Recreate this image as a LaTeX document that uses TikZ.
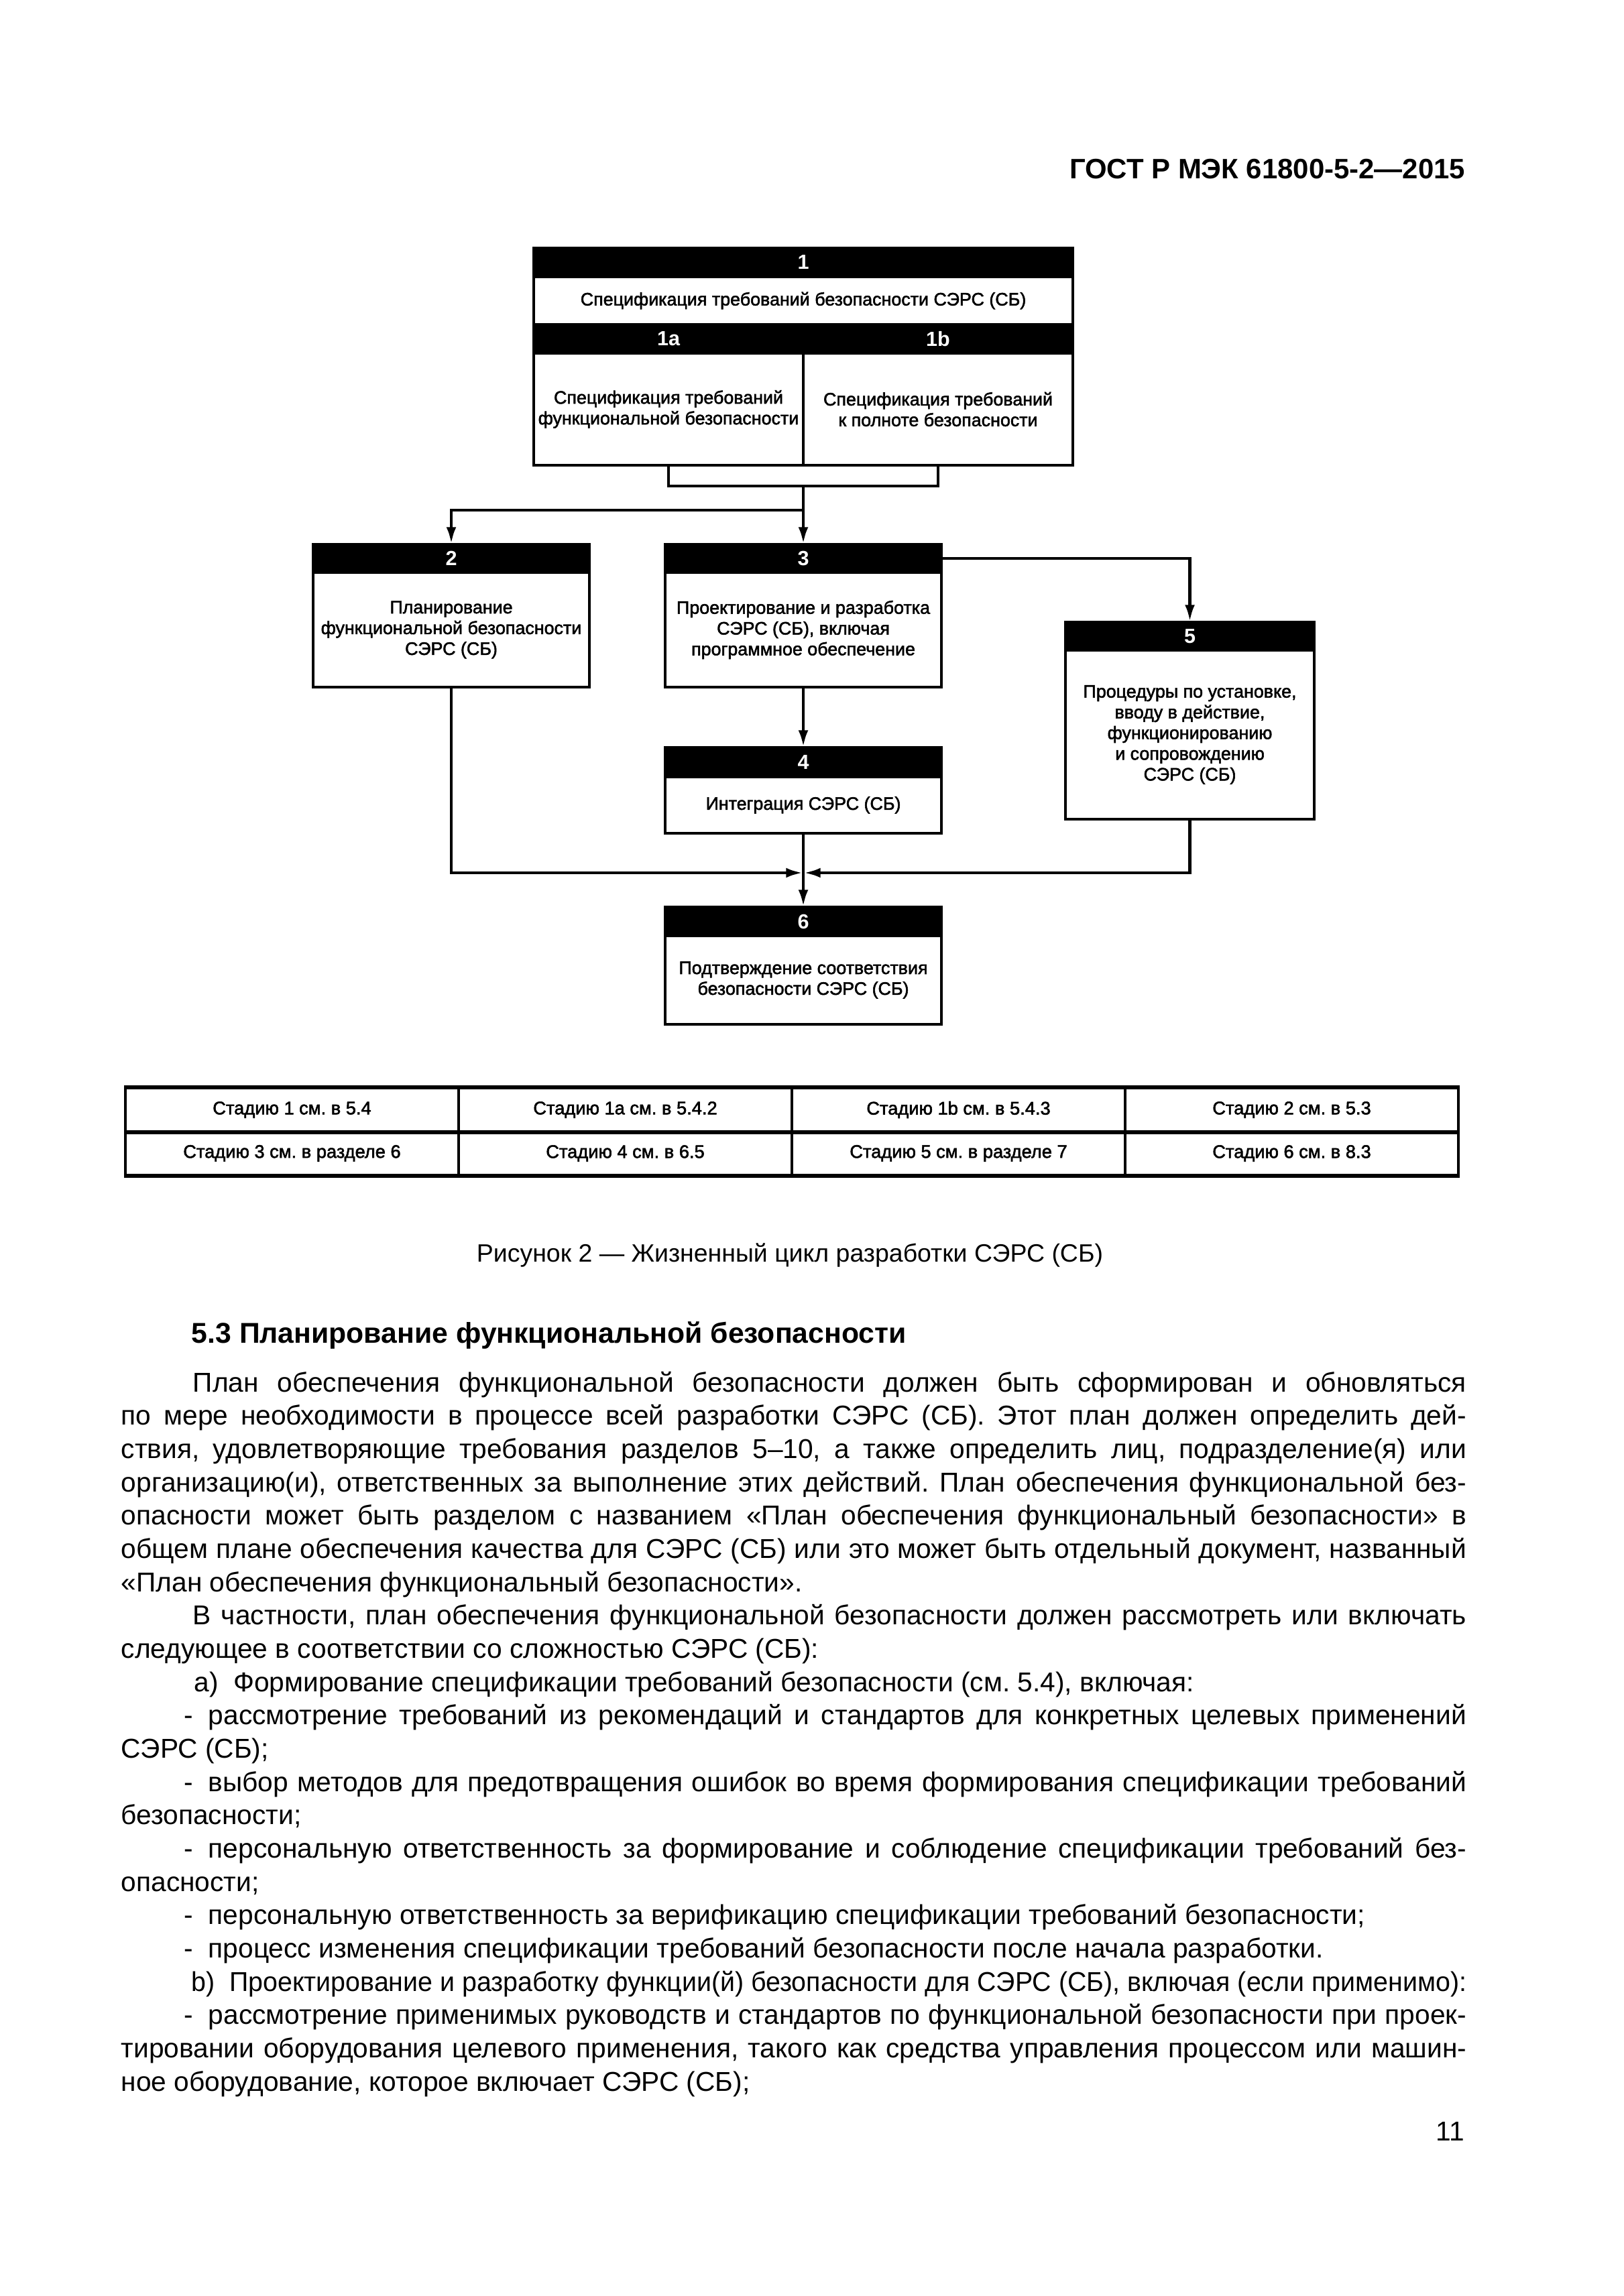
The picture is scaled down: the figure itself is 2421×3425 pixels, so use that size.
\documentclass[tikz,border=0pt]{standalone}
\usepackage{fontspec}
\usepackage{graphicx}
\setmainfont{Liberation Sans}
\newfontfamily\dfont{Liberation Sans}[FakeBold=2]
\usetikzlibrary{arrows.meta}
\frenchspacing
\begin{document}
\begin{tikzpicture}[x=0.24575pt,y=-0.24575pt]
\tikzset{
 frame/.style={draw=black, line width=1.2pt, inner sep=0pt, outer sep=0pt},
 hdr/.style={frame, fill=black, text=white, font=\bfseries\fontsize{7.5}{8}\selectfont},
 bodybox/.style={frame, fill=white, align=center, font=\dfont\fontsize{6.6}{7.6}\selectfont},
 wide/.style={minimum width=197.58pt},
 half/.style={minimum width=98.79pt},
 std/.style={minimum width=101.25pt},
 narrow/.style={minimum width=91.17pt},
 conn/.style={line width=1.2pt, -{Latex[length=6.3pt,width=3.6pt]}},
 wire/.style={line width=1.2pt},
 cell/.style={draw=black, line width=0.9pt, inner sep=0pt, minimum width=122.14pt, minimum height=15.85pt, font=\dfont\fontsize{6.7}{7.5}\selectfont},
 hrule/.style={line width=1.3pt},
 txt/.style={inner sep=0pt, anchor=base west, font=\fontsize{10}{12}\selectfont\frenchspacing},
}
\fill[white] (0,0) rectangle (2421,3425);
\useasboundingbox (0,0) rectangle (2421,3425);

% page header
\node[inner sep=0pt, anchor=base east, font=\bfseries\fontsize{10.3}{12}\selectfont] (hdrtxt) at (2186,267) {ГОСТ Р МЭК 61800-5-2—2015};

% ---------- diagram ----------
\node[bodybox, wide, minimum height=17.45pt] (t1) at (1198,448.5) {Спецификация требований безопасности СЭРС (СБ)};
\node[bodybox, half, minimum height=41.04pt] (b1a) at (997,610.5) {Спецификация требований\\функциональной безопасности};
\node[bodybox, half, minimum height=41.04pt] (b1b) at (1399,610.5) {Спецификация требований\\к полноте безопасности};
\node[hdr, wide, minimum height=10.57pt] (h1) at (1198,391.5) {1};
\node[hdr, half, minimum height=10.57pt] (h1a) at (997,505.5) {1a};
\node[hdr, half, minimum height=10.57pt] (h1b) at (1399,505.5) {1b};

\node[bodybox, std, minimum height=42.02pt] (b2) at (673,939.5) {Планирование\\функциональной безопасности\\СЭРС (СБ)};
\node[hdr, std, minimum height=10.32pt] (h2) at (673,833) {2};

\node[bodybox, std, minimum height=42.02pt] (b3) at (1198,939.5) {Проектирование и разработка\\СЭРС (СБ), включая\\программное обеспечение};
\node[hdr, std, minimum height=10.32pt] (h3) at (1198,833) {3};

\node[bodybox, narrow, minimum height=61.93pt] (b5) at (1774.5,1096) {Процедуры по установке,\\вводу в действие,\\функционированию\\и сопровождению\\СЭРС (СБ)};
\node[hdr, narrow, minimum height=10.32pt] (h5) at (1774.5,949) {5};

\node[bodybox, std, minimum height=20.64pt] (b4) at (1198,1201) {Интеграция СЭРС (СБ)};
\node[hdr, std, minimum height=10.81pt] (h4) at (1198,1137) {4};

\node[bodybox, std, minimum height=32.44pt] (b6) at (1198,1462) {Подтверждение соответствия\\безопасности СЭРС (СБ)};
\node[hdr, std, minimum height=10.57pt] (h6) at (1198,1374.5) {6};

% connectors
\coordinate (j1) at (1198,725);
\coordinate (j2) at (1198,761);
\coordinate (m) at (1198,1302);
\draw[wire] (b1a.south) |- (j1) -| (b1b.south);
\draw[conn] (j1) -- (h3.north);
\draw[conn] (j2) -| (h2.north);
\draw[conn] (h3.east) -| (h5.north);
\draw[conn] (b3.south) -- (h4.north);
\draw[conn] (b4.south) -- (h6.north);
\draw[conn] (b2.south) |- (m);
\draw[conn] (b5.south) |- (m);

% ---------- table ----------
\node[cell] (c11) at (435.5,1655.5) {Стадию 1 см. в 5.4};
\node[cell] (c12) at (932.5,1655.5) {Стадию 1a см. в 5.4.2};
\node[cell] (c13) at (1429.5,1655.5) {Стадию 1b см. в 5.4.3};
\node[cell] (c14) at (1926.5,1655.5) {Стадию 2 см. в 5.3};
\node[cell] (c21) at (435.5,1720.5) {Стадию 3 см. в разделе 6};
\node[cell] (c22) at (932.5,1720.5) {Стадию 4 см. в 6.5};
\node[cell] (c23) at (1429.5,1720.5) {Стадию 5 см. в разделе 7};
\node[cell] (c24) at (1926.5,1720.5) {Стадию 6 см. в 8.3};
\draw[hrule] (c11.north west) -- (c14.north east);
\draw[hrule] (c11.south west) -- (c14.south east);
\draw[hrule] (c21.south west) -- (c24.south east);

% caption and heading
\node[inner sep=0pt, anchor=base, font=\fontsize{9.2}{11}\selectfont] (cap) at (1178,1882) {Рисунок 2 — Жизненный цикл разработки СЭРС (СБ)};
\node[inner sep=0pt, anchor=base west, font=\bfseries\fontsize{10.5}{12}\selectfont] (sec) at (285,2003) {5.3 Планирование функциональной безопасности};

% ---------- body text ----------
\node[txt] (l1) at (287,2076) {\makebox[466.7pt][s]{План обеспечения функциональной безопасности должен быть сформирован и обновляться}};
\node[txt] (l2) at (180,2125.7) {\makebox[493pt][s]{по мере необходимости в процессе всей разработки СЭРС (СБ). Этот план должен определить дей-}};
\node[txt] (l3) at (180,2175.3) {\makebox[493pt][s]{ствия, удовлетворяющие требования разделов 5–10, а также определить лиц, подразделение(я) или}};
\node[txt] (l4) at (180,2225) {\makebox[493pt][s]{организацию(и), ответственных за выполнение этих действий. План обеспечения функциональной без-}};
\node[txt] (l5) at (180,2274.7) {\makebox[493pt][s]{опасности может быть разделом с названием «План обеспечения функциональный безопасности» в}};
\node[txt] (l6) at (180,2324.3) {\makebox[493pt][s]{общем плане обеспечения качества для СЭРС (СБ) или это может быть отдельный документ, названный}};
\node[txt] (l7) at (180,2374) {«План обеспечения функциональный безопасности».};
\node[txt] (l8) at (287,2423.7) {\makebox[466.7pt][s]{В частности, план обеспечения функциональной безопасности должен рассмотреть или включать}};
\node[txt] (l9) at (180,2473.3) {следующее в соответствии со сложностью СЭРС (СБ):};
\node[txt] (l10) at (289,2523) {а)\hspace*{5.5pt}Формирование спецификации требований безопасности (см. 5.4), включая:};
\node[txt] (l11) at (274,2572.7) {\makebox[469.9pt][s]{-\hspace*{5.5pt}рассмотрение требований из рекомендаций и стандартов для конкретных целевых применений}};
\node[txt] (l12) at (180,2622.3) {СЭРС (СБ);};
\node[txt] (l13) at (274,2672) {\makebox[469.9pt][s]{-\hspace*{5.5pt}выбор методов для предотвращения ошибок во время формирования спецификации требований}};
\node[txt] (l14) at (180,2721.7) {безопасности;};
\node[txt] (l15) at (274,2771.3) {\makebox[469.9pt][s]{-\hspace*{5.5pt}персональную ответственность за формирование и соблюдение спецификации требований без-}};
\node[txt] (l16) at (180,2821) {опасности;};
\node[txt] (l17) at (274,2870.7) {-\hspace*{5.5pt}персональную ответственность за верификацию спецификации требований безопасности;};
\node[txt] (l18) at (274,2920.3) {-\hspace*{5.5pt}процесс изменения спецификации требований безопасности после начала разработки.};
\node[txt] (l19) at (285,2970) {\resizebox{467.2pt}{\height}{b)\hspace*{5.5pt}Проектирование и разработку функции(й) безопасности для СЭРС (СБ), включая (если применимо):}};
\node[txt] (l20) at (274,3019.7) {\makebox[469.9pt][s]{-\hspace*{5.5pt}рассмотрение применимых руководств и стандартов по функциональной безопасности при проек-}};
\node[txt] (l21) at (180,3069.3) {\makebox[493pt][s]{тировании оборудования целевого применения, такого как средства управления процессом или машин-}};
\node[txt] (l22) at (180,3119) {ное оборудование, которое включает СЭРС (СБ);};

\node[inner sep=0pt, anchor=base east, font=\fontsize{10}{12}\selectfont] (pg) at (2185,3193) {11};
\end{tikzpicture}
\end{document}
